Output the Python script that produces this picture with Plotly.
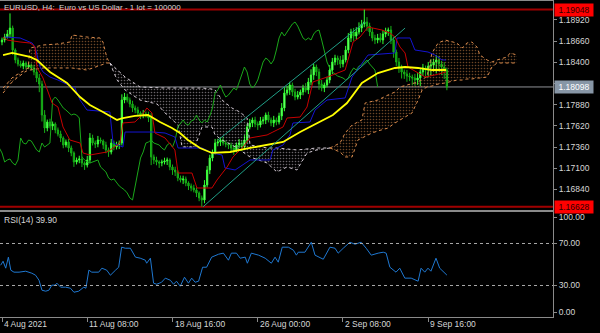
import plotly.graph_objects as go

# ---------------- data ----------------
x_tick_bars = [0, 32, 64, 96, 128, 160]
x_tick_labels = ["4 Aug 2021", "11 Aug 08:00", "18 Aug 16:00", "26 Aug 00:00", "2 Sep 08:00", "9 Sep 16:00"]
price_ticks = [1.16840, 1.17100, 1.17360, 1.17620, 1.17880, 1.18140, 1.18400, 1.18660, 1.18920]
rsi_ticks = [4.6, 30, 70, 95]
rsi_tick_labels = ["0.00", "30.00", "70.00", "100.00"]

first_open = 1.18650
closes = [
    1.18674, 1.18711, 1.18748, 1.18821, 1.18552, 1.18429, 1.18380, 1.18355, 1.18392, 1.18343,
    1.18367, 1.18331, 1.18282, 1.18208, 1.18134, 1.17754, 1.17594, 1.17668, 1.17619, 1.17644,
    1.17570, 1.17521, 1.17472, 1.17386, 1.17423, 1.17349, 1.17288, 1.17177, 1.17202, 1.17214,
    1.17165, 1.17140, 1.17202, 1.17472, 1.17410, 1.17398, 1.17447, 1.17435, 1.17386, 1.17325,
    1.17300, 1.17410, 1.17361, 1.17386, 1.17410, 1.17938, 1.17975, 1.17938, 1.17889, 1.17840,
    1.17815, 1.17779, 1.17754, 1.17766, 1.17754, 1.17717, 1.17239, 1.17202, 1.17177, 1.17165,
    1.17177, 1.17190, 1.17202, 1.17116, 1.17079, 1.17055, 1.16981, 1.16956, 1.16969, 1.16920,
    1.16883, 1.16858, 1.16834, 1.16797, 1.16736, 1.16711, 1.16895, 1.17079, 1.17226, 1.17300,
    1.17410, 1.17423, 1.17447, 1.17410, 1.17398, 1.17386, 1.17349, 1.17325, 1.17386, 1.17410,
    1.17361, 1.17447, 1.17607, 1.17656, 1.17693, 1.17644, 1.17631, 1.17680, 1.17693, 1.17754,
    1.17693, 1.17656, 1.17693, 1.17668, 1.17742, 1.17840, 1.18024, 1.18061, 1.18122, 1.18036,
    1.17975, 1.17999, 1.18036, 1.18085, 1.18061, 1.18159, 1.18245, 1.18343, 1.18282, 1.18134,
    1.18085, 1.18122, 1.18183, 1.18306, 1.18404, 1.18453, 1.18429, 1.18380, 1.18429, 1.18552,
    1.18699, 1.18772, 1.18723, 1.18772, 1.18821, 1.18871, 1.18895, 1.18846, 1.18772, 1.18699,
    1.18674, 1.18699, 1.18674, 1.18748, 1.18785, 1.18797, 1.18674, 1.18527, 1.18404, 1.18331,
    1.18282, 1.18257, 1.18232, 1.18220, 1.18208, 1.18183, 1.18208, 1.18282, 1.18331, 1.18306,
    1.18355, 1.18367, 1.18404, 1.18429, 1.18380, 1.18343, 1.18306, 1.18098,
]
upper_wick_pips = [
    3, 4, 5, 18, 3, 2, 3, 4, 3, 2,
    3, 2, 4, 3, 5, 4, 6, 3, 4, 3,
    2, 3, 4, 2, 3, 4, 3, 2, 3, 4,
    3, 2, 5, 6, 4, 3, 5, 3, 2, 4,
    3, 5, 3, 4, 3, 7, 5, 4, 3, 4,
    3, 4, 2, 5, 3, 4, 6, 3, 4, 2,
    3, 4, 3, 2, 3, 4, 2, 3, 4, 3,
    2, 3, 4, 3, 2, 3, 6, 5, 4, 3,
    5, 4, 3, 4, 3, 2, 3, 4, 3, 5,
    3, 6, 4, 5, 3, 4, 3, 5, 4, 3,
    4, 3, 5, 3, 4, 6, 7, 5, 4, 3,
    4, 5, 3, 4, 6, 5, 7, 4, 3, 4,
    5, 3, 4, 6, 5, 4, 3, 5, 6, 5,
    6, 4, 5, 6, 7, 5, 15.3, 6, 4, 5,
    4, 5, 6, 5, 4, 3, 5, 4, 3, 5,
    4, 3, 5, 4, 3, 5, 6, 4, 5, 3,
    5, 7, 4, 6, 5, 4, 6, 3,
]
lower_wick_pips = [
    4, 3, 2, 5, 6, 4, 3, 2, 4, 3,
    2, 3, 4, 5, 10, 8, 6, 4, 3, 5,
    4, 3, 5, 4, 3, 5, 4, 6, 3, 4,
    5, 6, 3, 4, 3, 5, 4, 3, 5, 4,
    6, 3, 4, 3, 5, 3, 4, 3, 4, 5,
    4, 3, 5, 4, 3, 5, 10, 5, 4, 6,
    4, 3, 5, 4, 6, 5, 4, 3, 5, 4,
    5, 4, 3, 5, 4, 8.3, 4, 3, 5, 4,
    3, 4, 5, 3, 4, 5, 4, 6, 3, 4,
    5, 3, 4, 3, 5, 4, 6, 3, 4, 5,
    3, 4, 5, 4, 3, 5, 4, 3, 6, 5,
    4, 3, 5, 4, 3, 5, 4, 6, 5, 7,
    4, 5, 3, 4, 5, 4, 6, 5, 4, 3,
    4, 5, 6, 4, 3, 5, 4, 6, 5, 4,
    5, 4, 3, 5, 4, 6, 5, 7, 5, 6,
    8, 6, 7, 5, 9, 7, 6, 10, 5, 8,
    9, 12, 8, 14, 9, 10, 11, 4,
]

# moving average (yellow)
ma_x = [0.4, 3.8, 10.5, 13.1, 18.0, 24.4, 29.3, 33.0, 37.9, 43.2, 45.4, 49.9, 54.8, 56.7, 59.3, 63.8, 66.8,
        69.8, 74.3, 78.8, 85.6, 93.1, 99.5, 105.5, 111.9, 118.2, 124.2, 129.5, 135.1, 141.1, 147.5, 151.3,
        156.2, 161.4, 166.7]
ma_y = [1.18490, 1.18515, 1.18466, 1.18429, 1.18282, 1.18147, 1.17975, 1.17877, 1.17791, 1.17693, 1.17717,
        1.17742, 1.17754, 1.17717, 1.17668, 1.17594, 1.17533, 1.17447, 1.17349, 1.17288, 1.17300, 1.17349,
        1.17386, 1.17423, 1.17545, 1.17656, 1.17754, 1.17901, 1.18147, 1.18269, 1.18331, 1.18343, 1.18331,
        1.18306, 1.18306]

# Tenkan-sen (red)
tenkan_x = [0.4, 1.9, 6.8, 10.5, 11.6, 12.4, 13.1, 15.4, 18.8, 21.0, 22.9, 25.5, 29.3, 30.4, 33.0, 39.4, 41.7,
            44.3, 45.4, 49.9, 52.6, 54.4, 56.3, 57.4, 61.2, 64.9, 66.1, 71.3, 73.2, 78.8, 80.7, 84.5, 86.7,
            90.5, 93.1, 99.5, 101.7, 105.5, 107.0, 111.9, 114.5, 116.7, 123.1, 128.8, 131.8, 134.4, 137.4,
            142.6, 145.6, 147.5, 149.4, 151.3, 152.4, 156.2, 158.8, 162.5, 166.7]
tenkan_y = [1.18711, 1.18674, 1.18650, 1.18637, 1.18613, 1.18588, 1.18343, 1.18208, 1.17901, 1.17852, 1.17607,
            1.17447, 1.17410, 1.17288, 1.17263, 1.17300, 1.17349, 1.17410, 1.17656, 1.17668, 1.17754, 1.17840,
            1.17779, 1.17533, 1.17472, 1.17325, 1.17042, 1.17042, 1.16858, 1.16858, 1.16956, 1.17116, 1.17239,
            1.17361, 1.17472, 1.17509, 1.17545, 1.17607, 1.17717, 1.17729, 1.17852, 1.18159, 1.18232, 1.18306,
            1.18650, 1.18711, 1.18834, 1.18797, 1.18760, 1.18711, 1.18588, 1.18515, 1.18343, 1.18269, 1.18220,
            1.18245, 1.18282]

# Kijun-sen (blue)
kijun_x = [1.1, 6.8, 11.3, 12.4, 14.3, 15.4, 18.0, 21.0, 27.4, 29.3, 31.9, 40.5, 41.7, 45.4, 46.2, 56.7, 61.2,
           64.9, 66.1, 75.1, 78.8, 82.6, 83.7, 87.5, 93.1, 100.6, 101.7, 105.5, 108.1, 109.2, 115.6, 117.5,
           122.0, 128.8, 131.4, 137.4, 147.5, 148.3, 153.2, 155.0, 159.9, 162.5, 165.2, 166.7]
kijun_y = [1.18711, 1.18699, 1.18637, 1.18588, 1.18343, 1.18282, 1.18220, 1.18183, 1.18085, 1.17938, 1.17815,
           1.17791, 1.17410, 1.17361, 1.17545, 1.17545, 1.17533, 1.17484, 1.17349, 1.17349, 1.17288, 1.17263,
           1.17104, 1.17079, 1.17202, 1.17202, 1.17325, 1.17386, 1.17509, 1.17656, 1.17668, 1.17815, 1.17938,
           1.17963, 1.18220, 1.18490, 1.18515, 1.18699, 1.18699, 1.18552, 1.18527, 1.18490, 1.18429, 1.18429]

# Ichimoku cloud, split where the spans cross
cloud1_x = [0.4, 4.1, 8.6, 9.8, 10.5, 15.4, 20.6, 25.5, 26.3, 31.9, 36.8, 37.9, 39.4, 40.5]
cloud1_top = [1.18085, 1.18220, 1.18306, 1.18331, 1.18576, 1.18613, 1.18625, 1.18650, 1.18736, 1.18711,
              1.18699, 1.18650, 1.18453, 1.18392]
cloud1_bot = [1.18024, 1.18171, 1.18282, 1.18306, 1.18306, 1.18331, 1.18331, 1.18331, 1.18331, 1.18306,
              1.18367, 1.18380, 1.18392, 1.18392]

cloud2_x = [40.5, 43.2, 46.2, 51.8, 58.2, 61.2, 66.1, 67.6, 72.4, 75.1, 78.8, 80.0, 82.6, 86.3, 89.3, 92.0,
            93.1, 99.5, 103.2, 107.0, 110.7, 114.5, 118.2, 123.1]
cloud2_top = [1.18392, 1.18306, 1.18220, 1.18098, 1.18085, 1.18085, 1.18085, 1.18085, 1.18085, 1.18085,
              1.18073, 1.18061, 1.17938, 1.17840, 1.17791, 1.17717, 1.17386, 1.17349, 1.17349, 1.17337,
              1.17325, 1.17337, 1.17349, 1.17349]
cloud2_bot = [1.18392, 1.18183, 1.18061, 1.17938, 1.17889, 1.17779, 1.17631, 1.17361, 1.17361, 1.17607,
              1.17607, 1.17509, 1.17447, 1.17386, 1.17325, 1.17263, 1.17239, 1.17165, 1.17055, 1.17116,
              1.17079, 1.17288, 1.17325, 1.17349]

cloud3_x = [123.1, 126.9, 128.8, 131.4, 133.6, 135.1, 136.3, 138.9, 141.1, 144.9, 147.5, 149.4, 153.9, 156.2,
            157.7, 159.5, 161.4, 163.7, 166.3, 170.8, 172.7, 174.5, 176.4, 178.3, 179.4, 182.1, 183.9, 185.8,
            189.6, 190.7, 193.3]
cloud3_top = [1.17349, 1.17410, 1.17533, 1.17631, 1.17668, 1.17693, 1.17901, 1.17926, 1.17938, 1.17999,
              1.18036, 1.18098, 1.18134, 1.18159, 1.18196, 1.18220, 1.18515, 1.18637, 1.18674, 1.18637,
              1.18576, 1.18637, 1.18650, 1.18588, 1.18490, 1.18429, 1.18404, 1.18429, 1.18466, 1.18515, 1.18490]
cloud3_bot = [1.17349, 1.17300, 1.17239, 1.17239, 1.17447, 1.17472, 1.17484, 1.17533, 1.17558, 1.17594,
              1.17656, 1.17693, 1.17779, 1.17938, 1.18061, 1.18098, 1.18110, 1.18134, 1.18147, 1.18183,
              1.18183, 1.18196, 1.18196, 1.18208, 1.18208, 1.18220, 1.18343, 1.18392, 1.18392, 1.18392, 1.18392]

# trend channel
channel_low_x = [75.5, 151.3]
channel_low_y = [1.16628, 1.18821]
channel_up_x = [81.1, 136.3]
channel_up_y = [1.17447, 1.18895]

# horizontal levels
level_high = 1.19048
level_low = 1.16628
level_bid = 1.18098

# RSI(14)
rsi_x = [-0.5, 0.4, 1.4, 2.4, 3.3, 4.5, 6.4, 8.9, 11.2, 12.6, 13.9, 15.0, 16.4, 17.6, 18.7, 19.9, 20.6, 22.0,
         23.9, 25.7, 27.0, 28.8, 30.7, 31.5, 32.6, 33.7, 36.3, 37.5, 39.3, 40.7, 42.6, 43.8, 44.9, 46.3, 48.2,
         50.1, 51.9, 53.8, 54.3, 55.7, 56.9, 58.1, 59.9, 61.3, 63.2, 64.4, 65.5, 66.9, 68.5, 70.0, 71.2, 72.5,
         73.8, 75.3, 76.8, 78.7, 81.3, 83.1, 85.0, 86.1, 88.0, 89.4, 91.3, 92.1, 93.6, 96.3, 98.8, 101.1,
         102.5, 103.7, 105.2, 107.5, 109.4, 110.5, 111.2, 113.7, 116.1, 117.5, 120.6, 123.1, 125.0, 126.2,
         128.1, 130.6, 132.5, 134.8, 136.7, 138.6, 141.2, 143.1, 144.2, 145.6, 147.9, 149.3, 151.2, 153.6,
         156.2, 157.3, 158.7, 159.9, 161.0, 162.9, 164.3, 167.0]
rsi_v = [49.3, 53.1, 46.5, 57.0, 44.6, 42.7, 42.7, 43.6, 41.7, 39.8, 35.0, 25.5, 24.6, 25.5, 30.3, 30.3, 32.2,
         28.4, 28.4, 27.4, 23.6, 24.6, 28.4, 27.4, 44.6, 42.7, 42.7, 46.5, 44.6, 39.8, 44.6, 47.4, 66.5, 65.5,
         65.5, 57.0, 56.0, 54.1, 51.2, 56.0, 32.2, 31.2, 33.1, 37.0, 35.0, 31.2, 34.1, 29.3, 37.9, 32.2, 37.0,
         33.1, 34.1, 47.4, 47.4, 57.0, 59.8, 60.8, 54.1, 60.8, 60.8, 56.0, 57.0, 51.2, 60.8, 58.9, 56.0, 51.2,
         57.0, 52.2, 66.5, 66.5, 63.6, 58.9, 61.7, 61.7, 71.2, 58.9, 55.0, 66.5, 65.5, 60.8, 65.5, 71.2, 69.3,
         71.2, 65.5, 58.9, 60.8, 61.7, 60.8, 47.4, 42.7, 46.5, 37.0, 37.0, 34.1, 46.5, 42.7, 46.5, 43.6, 56.0,
         46.5, 39.9]

# ---------------- derived candle values ----------------
n = len(closes)
bars = list(range(n))
opens = [first_open] + closes[:-1]
highs = [max(o, c) + w * 0.0001 for o, c, w in zip(opens, closes, upper_wick_pips)]
lows = [min(o, c) - w * 0.0001 for o, c, w in zip(opens, closes, lower_wick_pips)]
chikou_x = [b - 26 for b in bars]

FONT = "Liberation Sans"
TXT = "#d6d6d6"
GRID = "#8a8a8a"
BROWN = "#d88a4c"
THISTLE = "#cfc6d0"

fig = go.Figure()

fig.add_trace(go.Candlestick(
    x=bars, open=opens, high=highs, low=lows, close=closes,
    increasing=dict(line=dict(color="#33ff33", width=1), fillcolor="#9cff9c"),
    decreasing=dict(line=dict(color="#17b017", width=1), fillcolor="#119611"),
    whiskerwidth=0, xaxis="x", yaxis="y", hoverinfo="skip",
))

for cx, ctop, cbot, col in [(cloud1_x, cloud1_top, cloud1_bot, BROWN),
                            (cloud2_x, cloud2_top, cloud2_bot, THISTLE),
                            (cloud3_x, cloud3_top, cloud3_bot, BROWN)]:
    fig.add_trace(go.Scatter(x=cx, y=ctop, mode="lines", line=dict(color=col, width=1, dash="dot"),
                             opacity=0.85, xaxis="x", yaxis="y", hoverinfo="skip"))
    fig.add_trace(go.Scatter(x=cx, y=cbot, mode="lines", line=dict(color=col, width=1, dash="dot"),
                             fill="tonexty", fillcolor="rgba(0,0,0,0)",
                             fillpattern=dict(shape=".", fgcolor=col, bgcolor="rgba(0,0,0,0)",
                                              size=3, solidity=0.22),
                             opacity=0.85, xaxis="x", yaxis="y", hoverinfo="skip"))

fig.add_trace(go.Scatter(x=chikou_x, y=closes, mode="lines", line=dict(color="#1aa81a", width=1),
                         xaxis="x", yaxis="y"))
fig.add_trace(go.Scatter(x=kijun_x, y=kijun_y, mode="lines", line=dict(color="#1414d2", width=1),
                         xaxis="x", yaxis="y"))
fig.add_trace(go.Scatter(x=tenkan_x, y=tenkan_y, mode="lines", line=dict(color="#c80000", width=1),
                         xaxis="x", yaxis="y"))
fig.add_trace(go.Scatter(x=ma_x, y=ma_y, mode="lines", line=dict(color="#ffff00", width=1.8),
                         xaxis="x", yaxis="y"))
fig.add_trace(go.Scatter(x=channel_low_x, y=channel_low_y, mode="lines", line=dict(color="#1f9e86", width=1),
                         xaxis="x", yaxis="y"))
fig.add_trace(go.Scatter(x=channel_up_x, y=channel_up_y, mode="lines", line=dict(color="#1f9e86", width=1),
                         xaxis="x", yaxis="y"))

fig.add_trace(go.Scatter(x=rsi_x, y=rsi_v, mode="lines", line=dict(color="#1f78d1", width=1),
                         xaxis="x2", yaxis="y2"))

shapes = []
for lvl, col, w in [(level_high, "#a00000", 2), (level_low, "#a00000", 2), (level_bid, "#8f9296", 1)]:
    shapes.append(dict(type="line", xref="x domain", x0=0, x1=1, yref="y", y0=lvl, y1=lvl,
                       line=dict(color=col, width=w), layer="below"))
for lvl in [30, 70]:
    shapes.append(dict(type="line", xref="x2 domain", x0=0, x1=1, yref="y2", y0=lvl, y1=lvl,
                       line=dict(color="#a8a8a8", width=1, dash="dot")))

annotations = [
    dict(text="EURUSD, H4:\u00a0 Euro vs US Dollar - 1 lot = 100000", xref="paper", yref="paper",
         x=0.004, y=0.981, xanchor="left", yanchor="middle", showarrow=False,
         font=dict(family=FONT, size=8, color=TXT)),
    dict(text="RSI(14) 39.90", xref="paper", yref="paper", x=0.004, y=0.307, xanchor="left",
         yanchor="middle", showarrow=False, font=dict(family=FONT, size=8.5, color=TXT)),
]
for b, lab in zip(x_tick_bars, x_tick_labels):
    annotations.append(dict(text=lab, xref="x2", yref="paper", x=b, y=-0.022, xanchor="left",
                            yanchor="middle", xshift=0, showarrow=False,
                            font=dict(family=FONT, size=8.5, color=TXT)))
for lvl, bg, fg in [(level_high, "#ff0000", "#300000"), (level_low, "#ff0000", "#300000"),
                    (level_bid, "#8796a6", "#ffffff")]:
    annotations.append(dict(text=f"{lvl:.5f}", xref="paper", yref="y", x=1.002, y=lvl, xanchor="left",
                            yanchor="middle", showarrow=False, bgcolor=bg, borderpad=1, width=36,
                            font=dict(family=FONT, size=8.5, color=fg)))

axis_common = dict(showgrid=False, zeroline=False, showline=True, mirror=True, linecolor=GRID, linewidth=1)
fig.update_layout(
    width=600, height=333, margin=dict(l=0, r=47, t=1, b=16),
    paper_bgcolor="#000000", plot_bgcolor="#000000", showlegend=False,
    font=dict(family=FONT, size=8.5, color=TXT),
    xaxis=dict(domain=[0, 1], range=[-0.75, 206.83], anchor="y", showticklabels=False, ticks="",
               rangeslider=dict(visible=False), **axis_common),
    yaxis=dict(domain=[0.3386, 1.0], range=[1.16588, 1.19153], side="right", anchor="x",
               tickvals=price_ticks, ticktext=[f"{p:.5f}" for p in price_ticks],
               ticks="outside", ticklen=3, tickcolor=GRID, tickfont=dict(family=FONT, size=8.5, color=TXT),
               **axis_common),
    xaxis2=dict(domain=[0, 1], range=[-0.75, 206.83], anchor="y2", showticklabels=False,
                tickvals=x_tick_bars, ticks="outside", ticklen=4, tickcolor=GRID, **axis_common),
    yaxis2=dict(domain=[0, 0.3323], range=[0, 100], side="right", anchor="x2",
                tickvals=rsi_ticks, ticktext=rsi_tick_labels, ticks="outside", ticklen=3, tickcolor=GRID,
                tickfont=dict(family=FONT, size=8.5, color=TXT), **axis_common),
    shapes=shapes, annotations=annotations,
)

fig.write_html("out.html")
